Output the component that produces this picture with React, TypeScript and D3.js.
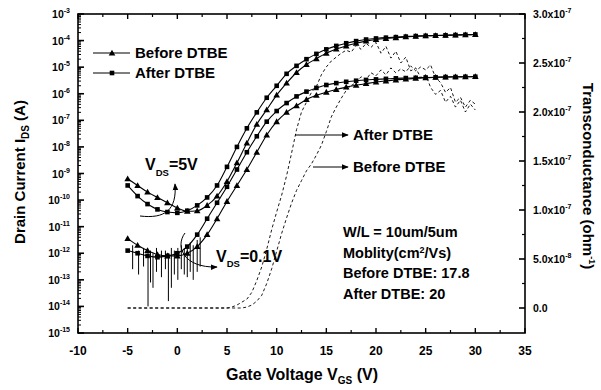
import React from 'react';
import * as d3 from 'd3';

// Gate voltage grid for the I-V curves (V)
const vgs = [-5, -4, -3, -2, -1, 0, 1, 2, 3, 4, 5, 6, 7, 8, 9, 10, 11, 12, 13, 14, 15, 16, 17, 18, 19, 20, 21, 22, 23, 24, 25, 26, 27, 28, 29, 30];

// log10 of drain current (A)
const logIdAfter5V = [-9.45, -9.85, -10.15, -10.35, -10.45, -10.48, -10.4, -10.2, -9.9, -9.45, -8.75, -8.0, -7.3, -6.7, -6.15, -5.7, -5.25, -4.95, -4.7, -4.5, -4.33, -4.2, -4.1, -4.02, -3.96, -3.92, -3.89, -3.87, -3.85, -3.83, -3.82, -3.81, -3.8, -3.79, -3.78, -3.77];
const logIdBefore5V = [-9.2, -9.45, -9.7, -9.9, -10.1, -10.3, -10.42, -10.4, -10.2, -9.85, -9.3, -8.6, -7.85, -7.15, -6.6, -6.05, -5.6, -5.2, -4.9, -4.68, -4.48, -4.32, -4.2, -4.1, -4.02, -3.96, -3.92, -3.89, -3.86, -3.84, -3.82, -3.81, -3.8, -3.79, -3.78, -3.77];
const logIdAfter01V = [-11.9, -12.0, -12.1, -12.15, -12.1, -12.0, -11.75, -11.3, -10.7, -10.1, -9.5, -8.85, -8.2, -7.6, -7.05, -6.65, -6.35, -6.1, -5.92, -5.78, -5.67, -5.6, -5.55, -5.51, -5.48, -5.46, -5.44, -5.42, -5.41, -5.4, -5.39, -5.38, -5.37, -5.37, -5.36, -5.36];
const logIdBefore01V = [-11.45, -11.7, -11.9, -12.05, -12.1, -12.1, -12.0, -11.75, -11.3, -10.7, -10.05, -9.45, -8.85, -8.2, -7.55, -7.05, -6.7, -6.45, -6.22, -6.06, -5.94, -5.84, -5.75, -5.68, -5.62, -5.56, -5.52, -5.48, -5.45, -5.42, -5.4, -5.38, -5.37, -5.36, -5.36, -5.35];

// Noise spikes on the VDS = 0.1V curves (V, log10 top, log10 bottom)
const noiseV = [-4.5, -3.9, -3.4, -2.95, -2.7, -2.45, -2.1, -1.6, -1.2, -0.9, -0.6, -0.3, 0.05, 0.4, 0.7, 1.0, 1.3, 1.6, 2.0, 2.3];
const noiseTop = [-11.7, -11.9, -11.8, -12.0, -11.9, -12.0, -11.8, -11.9, -11.9, -12.0, -11.8, -11.9, -11.8, -11.7, -11.8, -11.7, -11.6, -11.7, -11.5, -11.4];
const noiseBottom = [-12.6, -12.8, -12.5, -14.0, -13.1, -13.3, -12.7, -12.9, -12.6, -13.8, -13.3, -12.8, -13.0, -12.6, -12.8, -12.9, -12.7, -13.0, -12.7, -12.5];

// Transconductance (x1e-7 ohm^-1)
const gmVolts = [-5, 0, 5, 5.5, 6, 6.5, 7, 7.5, 8, 8.5, 9, 9.5, 10, 10.5, 11, 11.5, 12, 12.5, 13, 13.5, 14, 14.5, 15, 15.5, 16, 16.5, 17, 17.5, 18, 18.5, 19, 19.5, 20, 20.5, 21, 21.5, 22, 22.5, 23, 23.5, 24, 24.5, 25, 25.5, 26, 26.5, 27, 27.5, 28, 28.5, 29, 29.5, 30];
const gmAfter = [0, 0, 0, 0.01, 0.03, 0.06, 0.09, 0.16, 0.28, 0.42, 0.6, 0.8, 0.98, 1.15, 1.35, 1.58, 1.82, 2.0, 2.1, 2.2, 2.26, 2.38, 2.46, 2.52, 2.56, 2.6, 2.63, 2.61, 2.68, 2.64, 2.7, 2.66, 2.71, 2.6, 2.67, 2.55, 2.62, 2.5, 2.56, 2.42, 2.45, 2.35, 2.38, 2.25, 2.18, 2.22, 2.1, 2.16, 2.05, 2.12, 2.0, 2.08, 2.02];
const gmBefore = [0, 0, 0, 0, 0, 0, 0.01, 0.03, 0.07, 0.13, 0.25, 0.4, 0.58, 0.76, 0.92, 1.07, 1.2, 1.3, 1.4, 1.47, 1.56, 1.66, 1.8, 1.95, 2.05, 2.14, 2.22, 2.27, 2.3, 2.36, 2.33, 2.4, 2.37, 2.43, 2.38, 2.45, 2.4, 2.44, 2.41, 2.47, 2.42, 2.46, 2.43, 2.48, 2.35, 2.3, 2.2, 2.25, 2.1, 2.15, 2.05, 2.12, 2.08];

// Axis ticks
const xTicks = [-10, -5, 0, 5, 10, 15, 20, 25, 30, 35];
const decades = [-15, -14, -13, -12, -11, -10, -9, -8, -7, -6, -5, -4, -3];
const rightTicks = [0, 0.5, 1.0, 1.5, 2.0, 2.5, 3.0];
const rightTickLabels = ['0.0', '5.0x10|-8', '1.0x10|-7', '1.5x10|-7', '2.0x10|-7', '2.5x10|-7', '3.0x10|-7'];

const FONT = '"Liberation Sans", Arial, Helvetica, sans-serif';

export default function App() {
  const L = 78, R = 525, T = 14, B = 333;
  const x = d3.scaleLinear().domain([-10, 35]).range([L, R]);
  const y = d3.scaleLog().domain([1e-15, 1e-3]).range([B, T]);
  const yR = d3.scaleLinear().domain([0, 3e-7]).range([308, T]);

  const toPts = (logs: number[]) => vgs.map((v, i) => [v, Math.pow(10, logs[i])] as [number, number]);
  const line = d3.line<[number, number]>().x(d => x(d[0])).y(d => y(d[1])).curve(d3.curveMonotoneX);
  const gmLine = d3.line<[number, number]>().x(d => x(d[0])).y(d => yR(d[1] * 1e-7));

  const series = [
    { logs: logIdAfter5V, marker: 'sq' },
    { logs: logIdBefore5V, marker: 'tri' },
    { logs: logIdAfter01V, marker: 'sq' },
    { logs: logIdBefore01V, marker: 'tri' },
  ];

  const tri = (cx: number, cy: number, s = 3.3) => `M${cx},${cy - s}L${cx + s},${cy + s * 0.75}L${cx - s},${cy + s * 0.75}Z`;

  const minor: number[] = [];
  decades.slice(0, -1).forEach(k => { for (let m = 2; m <= 9; m++) minor.push(m * Math.pow(10, k)); });

  const xMinor = xTicks.slice(0, -1).map(t => t + 2.5);
  const rMinor = [0.25, 0.75, 1.25, 1.75, 2.25, 2.75];

  return (
    <svg width={601} height={390} style={{ position: 'absolute', left: 0, top: 0, background: '#fff' }} fontFamily={FONT} fontWeight="bold">
      <defs>
        <marker id="ah" viewBox="0 0 10 10" refX="9" refY="5" markerWidth="7" markerHeight="7" orient="auto-start-reverse" markerUnits="userSpaceOnUse">
          <path d="M0,1L10,5L0,9Z" fill="#000" />
        </marker>
      </defs>
      <rect x={0} y={0} width={601} height={390} fill="#fff" />

      {/* transconductance dashed curves */}
      <path d={gmLine(gmVolts.map((v, i) => [v, gmAfter[i]] as [number, number])) || ''} fill="none" stroke="#000" strokeWidth={0.9} strokeDasharray="3,2.5" />
      <path d={gmLine(gmVolts.map((v, i) => [v, gmBefore[i]] as [number, number])) || ''} fill="none" stroke="#000" strokeWidth={0.9} strokeDasharray="3,2.5" />

      {/* noise spikes */}
      {noiseV.map((v, i) => (
        <line key={'n' + i} x1={x(v)} x2={x(v)} y1={y(Math.pow(10, noiseTop[i]))} y2={y(Math.pow(10, noiseBottom[i]))} stroke="#000" strokeWidth={1} />
      ))}

      {/* drain current curves */}
      {series.map((s, si) => {
        const pts = toPts(s.logs);
        return (
          <g key={si}>
            <path d={line(pts) || ''} fill="none" stroke="#000" strokeWidth={1.1} />
            {pts.map((p, i) => s.marker === 'sq'
              ? <rect key={i} x={x(p[0]) - 2.3} y={y(p[1]) - 2.3} width={4.6} height={4.6} fill="#000" />
              : <path key={i} d={tri(x(p[0]), y(p[1]))} fill="#000" />)}
          </g>
        );
      })}

      {/* frame */}
      <rect x={L} y={T} width={R - L} height={B - T} fill="none" stroke="#000" strokeWidth={1.6} />

      {/* left axis ticks */}
      {decades.map(k => (
        <g key={'d' + k}>
          <line x1={L} x2={L + 6} y1={y(Math.pow(10, k))} y2={y(Math.pow(10, k))} stroke="#000" strokeWidth={1.6} />
          <text x={70} y={y(Math.pow(10, k)) + 4} textAnchor="end" fontSize={10.5}>
            10<tspan dy={-5} fontSize={7}>{k}</tspan>
          </text>
        </g>
      ))}
      {minor.map((v, i) => (
        <line key={'m' + i} x1={L} x2={L + 3} y1={y(v)} y2={y(v)} stroke="#000" strokeWidth={1} />
      ))}

      {/* bottom & top ticks */}
      {xTicks.map(t => (
        <g key={'x' + t}>
          <line x1={x(t)} x2={x(t)} y1={B} y2={B - 5} stroke="#000" strokeWidth={1.4} />
          <line x1={x(t)} x2={x(t)} y1={T} y2={T + 5} stroke="#000" strokeWidth={1.4} />
          <text x={x(t)} y={355} textAnchor="middle" fontSize={12}>{t}</text>
        </g>
      ))}
      {xMinor.map(t => (
        <g key={'xm' + t}>
          <line x1={x(t)} x2={x(t)} y1={B} y2={B - 3} stroke="#000" strokeWidth={1.2} />
          <line x1={x(t)} x2={x(t)} y1={T} y2={T + 3} stroke="#000" strokeWidth={1.2} />
        </g>
      ))}

      {/* right axis */}
      {rightTicks.map((t, i) => {
        const parts = rightTickLabels[i].split('|');
        return (
          <g key={'r' + t}>
            <line x1={R} x2={R - 6} y1={yR(t * 1e-7)} y2={yR(t * 1e-7)} stroke="#000" strokeWidth={1.6} />
            <text x={533} y={yR(t * 1e-7) + 4} fontSize={10.5}>
              {parts[0]}{parts[1] ? <tspan dy={-5} fontSize={7}>{parts[1]}</tspan> : null}
            </text>
          </g>
        );
      })}
      {rMinor.map(t => (
        <line key={'rm' + t} x1={R} x2={R - 3} y1={yR(t * 1e-7)} y2={yR(t * 1e-7)} stroke="#000" strokeWidth={1.2} />
      ))}

      {/* axis titles */}
      <text transform="translate(25,172) rotate(-90)" textAnchor="middle" fontSize={15}>
        Drain Current I<tspan dy={4} fontSize={10}>DS</tspan><tspan dy={-4}> (A)</tspan>
      </text>
      <text transform="translate(583,176) rotate(90)" textAnchor="middle" fontSize={15}>
        Transconductance (ohm<tspan dy={-6} fontSize={9}>-1</tspan><tspan dy={6}>)</tspan>
      </text>
      <text x={302} y={380} textAnchor="middle" fontSize={16}>
        Gate Voltage V<tspan dy={4} fontSize={10}>GS</tspan><tspan dy={-4}> (V)</tspan>
      </text>

      {/* legend */}
      <line x1={93} x2={130} y1={53} y2={53} stroke="#000" strokeWidth={1.1} />
      <path d={tri(112, 53)} fill="#000" />
      <text x={135} y={58} fontSize={15}>Before DTBE</text>
      <line x1={93} x2={130} y1={73} y2={73} stroke="#000" strokeWidth={1.1} />
      <rect x={109.7} y={70.7} width={4.6} height={4.6} fill="#000" />
      <text x={135} y={78} fontSize={15}>After DTBE</text>

      {/* VDS annotations */}
      <text x={145} y={170} fontSize={16}>V<tspan dy={6} fontSize={9.5}>DS</tspan><tspan dy={-6}>=5V</tspan></text>
      <path d="M140,216 C165,219 177,210 175,184" fill="none" stroke="#000" strokeWidth={1} markerEnd="url(#ah)" />
      <text x={216} y={262} fontSize={16}>V<tspan dy={5} fontSize={9.5}>DS</tspan><tspan dy={-5}>=0.1V</tspan></text>
      <path d="M185,233 C175,246 183,268 217,267" fill="none" stroke="#000" strokeWidth={1} markerEnd="url(#ah)" />

      {/* gm arrows */}
      <line x1={295} x2={348} y1={135} y2={135} stroke="#000" strokeWidth={1} markerEnd="url(#ah)" />
      <text x={353} y={140} fontSize={15}>After DTBE</text>
      <line x1={313} x2={348} y1={167} y2={167} stroke="#000" strokeWidth={1} markerEnd="url(#ah)" />
      <text x={353} y={172} fontSize={15}>Before DTBE</text>

      {/* info block */}
      <text x={343} y={237} fontSize={14.5}>W/L = 10um/5um</text>
      <text x={343} y={257.5} fontSize={14.5}>Moblity(cm<tspan dy={-5} fontSize={9}>2</tspan><tspan dy={5}>/Vs)</tspan></text>
      <text x={343} y={278} fontSize={14.5}>Before DTBE: 17.8</text>
      <text x={343} y={298.5} fontSize={14.5}>After DTBE: 20</text>
    </svg>
  );
}
